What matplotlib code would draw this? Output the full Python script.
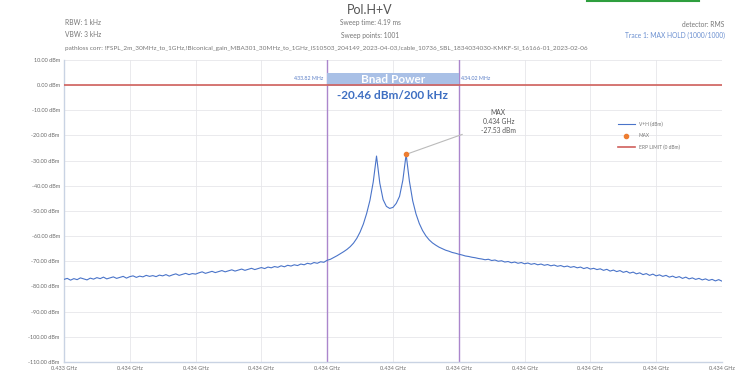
import numpy as np
import matplotlib.pyplot as plt

plt.rcParams['font.family'] = ['Lato', 'DejaVu Sans']

# sweep 433.42 .. 434.42 MHz, trace 1 max hold (dBm)
f_start_mhz = 433.42
f_stop_mhz = 434.42
level_dbm = [
    -77.2, -76.8, -77.5, -76.9, -77.3, -76.6, -77.0, -77.4, -76.7, -77.1,
    -76.5, -76.9, -76.3, -77.0, -76.6, -76.2, -76.8, -76.4, -76.0, -76.7,
    -76.1, -75.8, -76.4, -75.9, -76.2, -75.6, -76.0, -75.7, -76.1, -75.5,
    -75.8, -75.3, -75.9, -75.4, -75.0, -75.6, -75.2, -74.8, -75.3, -74.9,
    -75.1, -74.6, -74.2, -74.8, -74.4, -74.0, -74.5, -74.1, -73.7, -74.2,
    -73.8, -73.4, -73.9, -73.5, -73.1, -73.6, -73.2, -72.8, -73.3, -72.9,
    -72.5, -72.9, -72.3, -72.6, -72.1, -72.4, -71.8, -72.2, -71.6, -71.9,
    -71.4, -71.7, -71.1, -71.4, -70.8, -71.1, -70.5, -70.8, -70.2, -70.4,
    -69.6, -69.2, -68.5, -67.8, -67.0, -66.2, -65.3, -64.2, -62.8, -60.9,
    -58.4, -55.2, -51.0, -45.8, -38.5,
    -28.2,
    -39.0, -45.5, -48.2, -49.0, -48.6, -47.0, -44.2, -37.8,
    -27.53,
    -38.2, -46.0, -51.2, -55.0, -57.8, -59.9, -61.5, -62.7, -63.6, -64.4,
    -65.0, -65.6, -66.0, -66.5, -66.8, -67.2, -67.5, -67.9, -68.1, -68.4,
    -68.6, -68.9, -69.1, -69.4, -69.2, -69.7, -69.5, -70.0, -69.8, -70.3,
    -70.1, -70.6, -70.3, -70.8, -70.5, -71.0, -70.7, -71.2, -70.9, -71.4,
    -71.1, -71.6, -71.3, -71.8, -71.5, -72.0, -71.7, -72.2, -71.9, -72.4,
    -72.1, -72.6, -72.3, -72.9, -72.5, -73.1, -72.8, -73.3, -73.0, -73.6,
    -73.2, -73.9, -73.5, -74.1, -73.7, -74.4, -74.0, -74.7, -74.3, -75.0,
    -74.6, -75.3, -74.9, -75.6, -75.1, -75.8, -75.4, -76.0, -75.6, -76.3,
    -75.9, -76.5, -76.1, -76.8, -76.3, -77.0, -76.6, -77.2, -76.8, -77.4,
    -77.0, -77.6, -77.2, -77.8, -77.3, -77.9,
]
erp_limit_dbm = 0.0
band_lo_mhz = 433.82
band_hi_mhz = 434.02
band_power_dbm = -20.46
band_width_khz = 200
y_ticks = list(range(10, -111, -10))

freq_ghz = np.linspace(f_start_mhz, f_stop_mhz, len(level_dbm)) / 1000.0
level = np.array(level_dbm)
i_max = int(np.argmax(level))

BLUE = '#4a74c9'
RED = '#d0605c'
PURPLE = '#ab86cc'
GRID = '#e6e6ea'
TXT = '#6b6b6b'

fig = plt.figure(figsize=(7.43, 3.72), dpi=100)
ax = fig.add_axes([0.0861, 0.027, 0.8856, 0.812])

ax.plot(freq_ghz, level, color=BLUE, lw=0.8, label='V+H (dBm)', zorder=3)
ax.plot(freq_ghz[i_max], level[i_max], 'o', color='#ed7d31', ms=3,
        label='MAX', zorder=5)
ax.axhline(erp_limit_dbm, color=RED, lw=1.2, label='ERP LIMIT (0 dBm)', zorder=4)

lo, hi = band_lo_mhz / 1000, band_hi_mhz / 1000
for f in (lo, hi):
    ax.axvline(f, color=PURPLE, lw=1.0, zorder=2)

ax.set_xlim(f_start_mhz / 1000, f_stop_mhz / 1000)
ax.set_ylim(-110, 10)
ax.set_xticks(np.linspace(f_start_mhz, f_stop_mhz, 11) / 1000)
ax.set_xticklabels([f'{v:.3f} GHz' for v in ax.get_xticks()])
ax.set_yticks(y_ticks)
ax.set_yticklabels([f'{v:.2f} dBm' for v in y_ticks])
ax.tick_params(labelsize=4, colors=TXT, length=0, pad=3)
ax.grid(True, color=GRID, lw=0.6)
ax.set_axisbelow(True)
for side in ('top', 'right'):
    ax.spines[side].set_visible(False)
for side in ('left', 'bottom'):
    ax.spines[side].set_color('#c9d3e3')
    ax.spines[side].set_linewidth(1.0)

# band power box between the two markers
ax.axvspan(lo, hi, ymin=(-0.3 + 110) / 120, ymax=(4.8 + 110) / 120,
           color='#a9c0e6', zorder=3, lw=0)
ax.text((lo + hi) / 2, 2.3, 'Bnad Power', ha='center', va='center',
        color='white', fontsize=8.5, fontweight='bold', zorder=6)
ax.text((lo + hi) / 2, -4.0, f'{band_power_dbm:.2f} dBm/{band_width_khz} kHz',
        ha='center', va='center', color='#3e6fc2', fontsize=8.5,
        fontweight='bold', zorder=6)
ax.text(lo - 0.000006, 2.5, f'{band_lo_mhz:.2f} MHz', ha='right', va='center',
        color='#5b7fc7', fontsize=3.8)
ax.text(hi + 0.000003, 2.5, f'{band_hi_mhz:.2f} MHz', ha='left', va='center',
        color='#5b7fc7', fontsize=3.8)

# max marker annotation
ax.annotate(f'MAX\n{freq_ghz[i_max]:.3f} GHz\n{level[i_max]:.2f} dBm',
            xy=(freq_ghz[i_max], level[i_max]),
            xytext=(freq_ghz[i_max] + 0.00014, -14.5),
            ha='center', va='center', fontsize=4.8, color='#555555',
            linespacing=1.4,
            arrowprops=dict(arrowstyle='-', color='#bbbbbb', lw=0.8,
                            shrinkA=12, shrinkB=1))

leg = ax.legend(loc='upper left', bbox_to_anchor=(0.835, 0.81), fontsize=3.5,
                frameon=False, handlelength=3.5, labelspacing=1.3,
                labelcolor='#777777')

# header block
fig.text(0.498, 0.972, 'Pol.H+V', ha='center', va='center', fontsize=9,
         color='#555555')
fig.text(0.498, 0.94, 'Sweep time: 4.19 ms', ha='center', va='center',
         fontsize=4.8, color='#777777')
fig.text(0.498, 0.905, 'Sweep points: 1001', ha='center', va='center',
         fontsize=4.8, color='#777777')
fig.text(0.0875, 0.94, 'RBW: 1 kHz', ha='left', va='center', fontsize=4.8,
         color='#777777')
fig.text(0.0875, 0.908, 'VBW: 3 kHz', ha='left', va='center', fontsize=4.8,
         color='#777777')
fig.text(0.975, 0.935, 'detector: RMS', ha='right', va='center',
         fontsize=4.8, color='#777777')
fig.text(0.975, 0.905, 'Trace 1: MAX HOLD (1000/1000)', ha='right',
         va='center', fontsize=4.8, color='#6a8fd0')
fig.text(0.0875, 0.87,
         'pathloss corr: !FSPL_2m_30MHz_to_1GHz,!Biconical_gain_MBA301_30MHz_to_1GHz_'
         'IS10503_204149_2023-04-03,!cable_10736_SBL_1834034030-KMKF-SI_16166-01_2023-02-06',
         ha='left', va='center', fontsize=4.6, color='#777777')
fig.add_artist(plt.Line2D([0.79, 0.941], [0.997, 0.997], color='#2e9e3e',
                          lw=1.5, transform=fig.transFigure))

fig.savefig('out.png', dpi=100)
